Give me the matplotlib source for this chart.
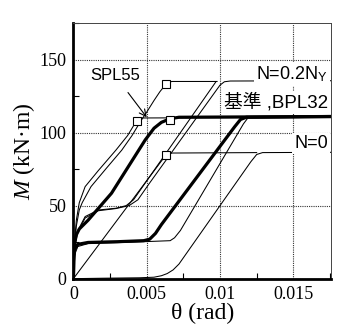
import matplotlib
matplotlib.use('Agg')
import matplotlib.pyplot as plt
from matplotlib.ticker import MultipleLocator

plt.rcParams['font.family'] = ['Liberation Serif', 'DejaVu Serif']
plt.rcParams['mathtext.fontset'] = 'custom'
plt.rcParams['mathtext.rm'] = 'Liberation Serif'
plt.rcParams['mathtext.it'] = 'Liberation Serif:italic'
plt.rcParams['mathtext.sf'] = 'Liberation Sans'

# --- data (theta in rad, M in kN.m) ---
# N=0.2Ny, monotonic
theta_p = [0, 0.00005, 0.0001, 0.0002, 0.0004, 0.0006, 0.0012, 0.0022, 0.0033,
           0.0040, 0.0046, 0.0050, 0.0055, 0.0059, 0.0063, 0.0067, 0.0098]
m_p = [0, 15, 25, 36, 47, 52, 63, 75, 88, 98, 108, 114, 122, 128, 133, 135, 135]

# SPL55
theta_spl = [0, 0.00005, 0.0001, 0.0002, 0.0004, 0.0008, 0.0017, 0.0029, 0.0037,
             0.0043, 0.0046, 0.0176]
m_spl = [0, 16, 28, 40, 52, 63, 74, 88, 98, 108, 110, 110.5]

# base (BPL32), thick
theta_b1 = [0, 0.00003, 0.0001, 0.0002, 0.0004, 0.001, 0.0026, 0.0049, 0.0055,
            0.006, 0.0066, 0.0072, 0.0176]
m_b1 = [0, 15, 25, 30, 34, 40, 58.5, 95, 103, 107, 109.5, 110.5, 111]

theta_b2 = [0, 0.00002, 0.00008, 0.0003, 0.001, 0.003, 0.0048, 0.0052, 0.0056,
            0.006, 0.0110, 0.0114, 0.0118, 0.0176]
m_b2 = [0, 12, 20, 23.5, 24.8, 25.3, 26, 27, 31, 37, 104, 109, 110.5, 111]

# thin slip curve, plateau ~25
theta_t3 = [0, 0.00003, 0.0003, 0.001, 0.004, 0.0066, 0.0069, 0.0073, 0.0116,
            0.0119, 0.0176]
m_t3 = [0, 15, 22, 24, 25, 26, 28, 33, 106, 110, 110.5]

# slip curves, plateau ~50
theta_q1 = [0, 0.00005, 0.00015, 0.0003, 0.0008, 0.0017, 0.0029, 0.0036, 0.0041,
            0.0049, 0.0097]
m_q1 = [0, 15, 26, 33, 42.5, 47, 48.2, 50, 54, 65.5, 134.5]

theta_q2 = [0, 0.00005, 0.00015, 0.0003, 0.0008, 0.0017, 0.0029, 0.0038, 0.0044,
            0.0052, 0.0100, 0.0103, 0.0107, 0.0176]
m_q2 = [0, 14, 25, 32, 41.5, 46.5, 48, 50, 54, 65.5, 132.5, 134.8, 135.3, 135.5]

# N=0
theta_n1 = [0, 0.0060, 0.0063, 0.0067, 0.0125]
m_n1 = [0, 80.5, 84.5, 86, 86.3]

theta_n2 = [0, 0.002, 0.0045, 0.0055, 0.006, 0.0064, 0.0068, 0.0072, 0.0121,
            0.0125, 0.0129, 0.0176]
m_n2 = [0, 0.3, 0.6, 1.0, 2.0, 3.5, 6.0, 10.0, 80, 85, 86.3, 86.5]

# yield points (open squares)
yield_theta = [0.00432, 0.0063, 0.0066, 0.0063]
yield_m = [108.2, 133.3, 108.7, 84.5]

fig = plt.figure(figsize=(3.43, 3.29), dpi=100)
ax = fig.add_axes([0.214, 0.153, 0.751, 0.777])

thin = dict(color='black', lw=0.75, zorder=3)
thick = dict(color='black', lw=2.3, zorder=4)

ax.plot(theta_p, m_p, **thin)
ax.plot(theta_spl, m_spl, **thin)
ax.plot(theta_t3, m_t3, **thin)
ax.plot(theta_q1, m_q1, **thin)
ax.plot(theta_q2, m_q2, **thin)
ax.plot(theta_n1, m_n1, **thin)
ax.plot(theta_n2, m_n2, **thin)
ax.plot(theta_b1, m_b1, **thick)
ax.plot(theta_b2, m_b2, **thick)
ax.plot(yield_theta, yield_m, 's', ms=5.5, mfc='white', mec='black', mew=0.8,
        zorder=6)

ax.set_xlim(0, 0.01757)
ax.set_ylim(0, 175)
ax.xaxis.set_minor_locator(MultipleLocator(0.0025))
ax.yaxis.set_minor_locator(MultipleLocator(25))
ax.set_xticks([0, 0.005, 0.01, 0.015])
ax.set_xticklabels(['0', '0.005', '0.01', '0.015'])
ax.set_yticks([0, 50, 100, 150])
ax.set_yticklabels(['0', '50', '100', '150'])
ax.tick_params(which='both', direction='in', labelsize=13, width=0.8)
ax.tick_params(which='major', length=0, pad=5)
ax.tick_params(which='minor', length=4)
ax.grid(True, which='major', linestyle=(0, (1, 1)), color='#333333', lw=0.8)

for s in ['left', 'bottom']:
    ax.spines[s].set_linewidth(2.0)
for s in ['top', 'right']:
    ax.spines[s].set_linewidth(0.7)
    ax.spines[s].set_color('#444444')

ax.set_xlabel('θ (rad)', fontsize=17, labelpad=0)
ax.set_ylabel(r'$M$ (kN·m)', fontsize=17, labelpad=2)

box = dict(facecolor='white', edgecolor='none', pad=1.5)
sans = ['Liberation Sans', 'Noto Sans CJK JP']
ax.text(0.01737, 140, r'N=0.2N$_\mathsf{Y}$', ha='right', va='center',
        fontsize=13, family=sans, bbox=box, zorder=7)
ax.text(0.01737, 120.7, '基準 ,BPL32', ha='right', va='center', fontsize=13.5,
        family=sans, bbox=box, zorder=7)
ax.text(0.01737, 92.5, 'N=0', ha='right', va='center', fontsize=13,
        family=sans, bbox=box, zorder=7)
ax.annotate('SPL55', xy=(0.00500, 110.5), xytext=(0.00285, 139),
            ha='center', va='center', fontsize=12, family=sans,
            arrowprops=dict(arrowstyle='->', lw=0.8, color='black',
                            shrinkA=6, shrinkB=0),
            zorder=8)

fig.savefig('out.png', dpi=100)
